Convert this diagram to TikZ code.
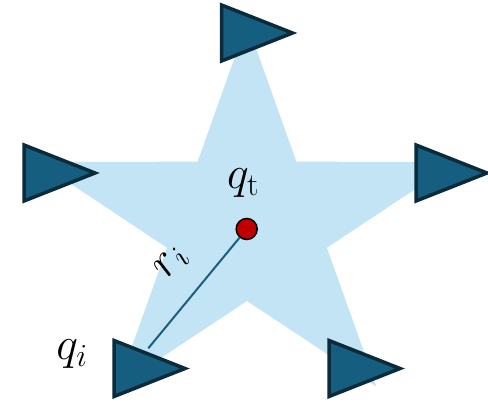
\RequirePackage{fix-cm}
\documentclass[tikz,border=0pt]{standalone}
\usepackage{amsmath}
\definecolor{starfill}{HTML}{C2E4F4}
\definecolor{agentfill}{HTML}{165E80}
\definecolor{agentline}{HTML}{0B2A3A}
\definecolor{dotred}{HTML}{C00000}
\definecolor{linkcol}{HTML}{1A5E80}
\DeclareMathSizes{46}{46}{32}{24}
\tikzset{
  agentshape/.style={fill=agentfill, draw=agentline, line width=3.5pt, line join=miter},
  agent/.pic={\path[agentshape] (0,-28) -- (0,28) -- (71,0) -- cycle;},
  target/.style={circle, fill=dotred, draw=black, line width=1.5pt, minimum size=21pt, inner sep=0pt},
  link/.style={draw=linkcol, line width=2pt},
  lbl/.style={font=\fontsize{46}{50}\selectfont, inner sep=0pt},
}
\begin{document}
\begin{tikzpicture}[x=1pt,y=-1pt]
\useasboundingbox (0,0) rectangle (488,403);
% star
\fill[starfill] (247,23) -- (197.6,161.7) -- (37.8,161.9) -- (167.1,247.8) -- (117.6,386.6)
  -- (247,301) -- (376.4,386.6) -- (326.9,247.8) -- (456.2,161.9) -- (296.4,161.7) -- cycle;
% target and link
\node[target] (qt) at (246.7,229) {};
\coordinate (qiend) at (148.3,348.3);
\draw[link] (qt) -- (qiend);
% agents
\pic at (221.5,33) {agent};
\pic at (24,173) {agent};
\pic at (416,173) {agent};
\pic at (114,368.5) {agent};
\pic at (329,368.5) {agent};
% labels
\node[lbl] (lqt) at (243,183) {$q_{\mathrm{t}}$};
\node[lbl] (lqi) at (72,354) {$q_i$};
\node[lbl, rotate=52] (lri) at (171.7,263.3) {$r_i$};
\end{tikzpicture}
\end{document}
